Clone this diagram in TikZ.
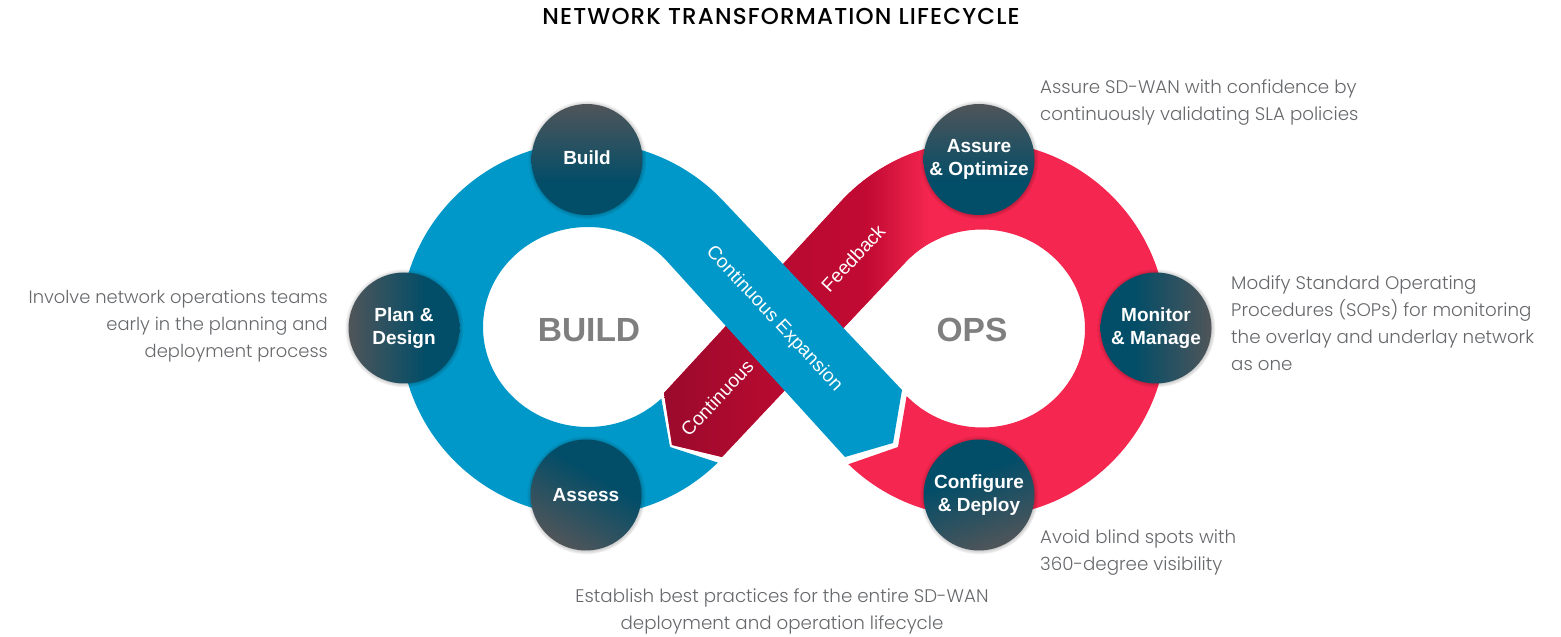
\documentclass[tikz,border=0pt]{standalone}
\usepackage{fontspec}
\setmainfont{Poppins}[UprightFont=* Light,BoldFont=* Medium]
\newfontfamily\labelfont{Liberation Sans}
\usetikzlibrary{calc,shadows,fadings}
\definecolor{ringblue}{HTML}{0098C8}
\definecolor{ringred}{HTML}{F5264F}
\definecolor{stageteal}{HTML}{024D68}
\definecolor{stagegrey}{HTML}{505559}
\definecolor{notegrey}{HTML}{66686B}
\definecolor{hubgrey}{HTML}{7F7F7F}
\pgfdeclarehorizontalshading{crossred}{100bp}{%
  rgb(0bp)=(.60,.04,.17);rgb(25bp)=(.60,.04,.17);rgb(46bp)=(.72,.04,.19);%
  rgb(62bp)=(.76,.04,.20);rgb(73bp)=(.96,.15,.31);rgb(100bp)=(.96,.15,.31)}
\pgfdeclarehorizontalshading{stagefade}{100bp}{%
  color(0bp)=(stagegrey);color(25bp)=(stagegrey);color(60bp)=(stageteal);color(100bp)=(stageteal)}
\begin{document}
\begin{tikzpicture}[x=1pt,y=1pt]
\tikzstyle{stage}=[circle,minimum size=111pt,inner sep=0pt,align=center,text=white,
  shade,shading=stagefade,
  font=\labelfont\bfseries\fontsize{19}{23.5}\selectfont,
  general shadow={shadow scale=1.07,fill=black,opacity=.4,path fading=circle with fuzzy edge 15 percent}]
\tikzstyle{note}=[text=notegrey,font=\fontsize{18.25}{27}\selectfont,inner sep=0pt]
\tikzstyle{hub}=[text=hubgrey,font=\labelfont\bfseries\fontsize{33.5}{40}\selectfont]
\tikzstyle{band}=[text=white,font=\labelfont\fontsize{19}{23}\selectfont]
\useasboundingbox (0,0) rectangle (1561,637);
\coordinate (left) at (587,308);
\coordinate (lefthole) at (588,310);
\coordinate (right) at (979,308);
\coordinate (righthole) at (982,308.5);
% red loop
\fill[ringred] (right) ++(-134:188) arc (-134:137:188) -- (664,244) -- (672,192) -- (722,180)
  -- ($(righthole)+(137:103 and 99)$) arc (137:-137:103 and 99) -- (898,190) -- cycle;
\begin{scope}
\clip (right) ++(-134:188) arc (-134:137:188) -- (664,244) -- (672,192) -- (722,180)
  -- ($(righthole)+(137:103 and 99)$) arc (137:-137:103 and 99) -- (898,190) -- cycle;
\shade[shading=crossred] (660,170) -- (760,170) -- (940,350) -- (940,500) -- (660,500) -- cycle;
\end{scope}
% blue loop
\fill[ringblue] (left) ++(-45.6:187) arc (-45.6:-317:187) -- (902,247) -- (893,194) -- (845,180)
  -- ($(lefthole)+(43:105 and 100)$) arc (43:314.3:105 and 100) -- (670,190) -- cycle;
\node[hub] (build) at (589,307) {BUILD};
\node[hub] (ops) at (972,307) {OPS};
\node[band,rotate=-47] (expansion) at (774,318) {Continuous Expansion};
\node[band,rotate=47] (continuous) at (717,239) {Continuous};
\node[band,rotate=47] (feedback) at (853,379) {Feedback};
\node[stage,shading angle=-90,text depth=3.5pt] (buildstage) at (587,477.5) {Build};
\node[stage] (plan) at (404,309) {Plan \&\\Design};
\node[stage,shading angle=60] (assess) at (586,142) {Assess};
\node[stage,shading angle=-90] (assure) at (979,477.5) {Assure\\\& Optimize};
\node[stage,shading angle=180] (monitor) at (1156,309) {Monitor\\\& Manage};
\node[stage,shading angle=110] (configure) at (979,142) {Configure\\\& Deploy};
\node[font=\bfseries\fontsize{23}{26}\selectfont\addfontfeature{LetterSpace=5}] (title) at (781,621) {NETWORK TRANSFORMATION LIFECYCLE};
\node[note,align=left,anchor=north west] (noteassure) at (1040,558) {Assure SD-WAN with confidence by\\continuously validating SLA policies};
\node[note,align=left,anchor=north west] (notemonitor) at (1231,362) {Modify Standard Operating\\Procedures (SOPs) for monitoring\\the overlay and underlay network\\as one};
\node[note,align=right,anchor=north east,font=\fontsize{17.9}{27}\selectfont] (noteplan) at (328,347) {Involve network operations teams\\early in the planning and\\deployment process};
\node[note,align=left,anchor=north west] (noteconfigure) at (1040,107) {Avoid blind spots with\\360-degree visibility};
\node[note,align=center,anchor=north] (noteassess) at (782,49) {Establish best practices for the entire SD-WAN\\deployment and operation lifecycle};
\end{tikzpicture}
\end{document}
